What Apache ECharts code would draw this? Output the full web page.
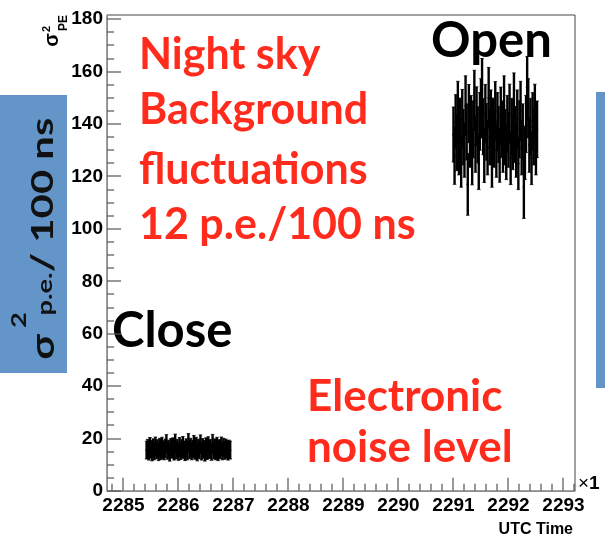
<!DOCTYPE html>
<html>
<head>
<meta charset="utf-8">
<script src="https://cdn.jsdelivr.net/npm/echarts@6/dist/echarts.min.js"></script>
<style>
  html, body { margin: 0; padding: 0; background: #fff; }
  #chart { width: 605px; height: 542px; }
</style>
</head>
<body>
<div id="chart"></div>
<script>
// tick labels
const xMajor = [2285, 2286, 2287, 2288, 2289, 2290, 2291, 2292, 2293];
const yMajor = [0, 20, 40, 60, 80, 100, 120, 140, 160, 180];

// shutter closed: UTC time, sigma^2, error
const closeTime = [
  2285.42,2285.44,2285.46,2285.48,2285.50,2285.52,2285.54,2285.56,2285.58,2285.60,
  2285.62,2285.64,2285.66,2285.68,2285.70,2285.72,2285.74,2285.76,2285.78,2285.80,
  2285.82,2285.84,2285.86,2285.88,2285.90,2285.92,2285.94,2285.96,2285.98,2286.00,
  2286.02,2286.04,2286.06,2286.08,2286.10,2286.12,2286.14,2286.16,2286.18,2286.20,
  2286.22,2286.24,2286.26,2286.28,2286.30,2286.32,2286.34,2286.36,2286.38,2286.40,
  2286.42,2286.44,2286.46,2286.48,2286.50,2286.52,2286.54,2286.56,2286.58,2286.60,
  2286.62,2286.64,2286.66,2286.68,2286.70,2286.72,2286.74,2286.76,2286.78,2286.80,
  2286.82,2286.84,2286.86,2286.88,2286.90,2286.92,2286.94
];
const closeVal = [
  15.6,16.2,15.1,16.8,15.9,14.8,16.4,15.3,17.0,15.7,
  16.1,14.9,16.6,15.4,16.9,15.8,15.2,16.3,17.9,15.5,
  16.0,14.7,16.5,15.9,16.7,15.1,18.1,15.6,16.2,15.0,
  16.8,15.4,16.1,17.2,15.7,14.9,16.4,15.3,18.3,15.8,
  16.6,15.2,16.0,17.6,15.5,16.9,14.8,16.3,15.7,17.8,
  15.1,16.5,15.9,14.7,16.7,15.4,17.1,15.8,16.2,15.0,
  18.0,15.6,16.4,15.3,16.9,14.9,16.1,15.7,17.0,15.2,
  16.6,15.5,16.3,15.9,15.1,16.0,15.6
];
const closeErr = [
  3.4,3.5,3.3,3.6,3.4,3.3,3.5,3.4,3.6,3.4,
  3.5,3.3,3.5,3.4,3.6,3.4,3.3,3.5,3.6,3.4,
  3.4,3.3,3.5,3.4,3.6,3.3,3.6,3.4,3.5,3.3,
  3.6,3.4,3.5,3.6,3.4,3.3,3.5,3.4,3.6,3.4,
  3.5,3.3,3.4,3.6,3.4,3.6,3.3,3.5,3.4,3.6,
  3.3,3.5,3.4,3.3,3.6,3.4,3.6,3.4,3.5,3.3,
  3.6,3.4,3.5,3.4,3.6,3.3,3.5,3.4,3.6,3.3,
  3.5,3.4,3.5,3.4,3.3,3.4,3.4
];

// shutter open
const openTime = [
  2291.00,2291.02,2291.04,2291.06,2291.08,2291.10,2291.12,2291.14,2291.16,2291.18,
  2291.20,2291.22,2291.24,2291.26,2291.28,2291.30,2291.32,2291.34,2291.36,2291.38,
  2291.40,2291.42,2291.44,2291.46,2291.48,2291.50,2291.52,2291.54,2291.56,2291.58,
  2291.60,2291.62,2291.64,2291.66,2291.68,2291.70,2291.72,2291.74,2291.76,2291.78,
  2291.80,2291.82,2291.84,2291.86,2291.88,2291.90,2291.92,2291.94,2291.96,2291.98,
  2292.00,2292.02,2292.04,2292.06,2292.08,2292.10,2292.12,2292.14,2292.16,2292.18,
  2292.20,2292.22,2292.24,2292.26,2292.28,2292.30,2292.32,2292.34,2292.36,2292.38,
  2292.40,2292.42,2292.44,2292.46,2292.48,2292.50,2292.52
];
const openVal = [
  136,128,141,133,145,131,139,126,142,135,
  130,147,137,117,144,134,140,127,138,149,
  132,143,136,125,141,146,153,139,128,144,
  137,131,150,135,142,126,139,134,145,130,
  141,136,128,143,138,132,147,135,129,140,
  134,144,127,139,133,148,136,130,142,125,
  138,145,131,137,116,129,140,154,146,132,
  139,127,141,135,144,131,138
];
const openErr = [
  10.5,11.0,10.2,10.8,11.3,10.4,10.9,10.1,11.2,10.6,
  10.3,11.4,10.7,11.8,11.1,10.5,10.9,10.2,10.8,11.5,
  10.4,11.2,10.6,10.0,11.0,11.3,12.0,10.7,10.3,11.1,
  10.8,10.4,11.6,10.6,11.0,10.1,10.9,10.5,11.2,10.3,
  11.0,10.7,10.2,11.1,10.8,10.4,11.4,10.6,10.2,10.9,
  10.5,11.2,10.1,10.8,10.4,11.5,10.7,10.3,11.0,10.0,
  10.9,11.3,10.4,10.7,12.0,10.2,10.9,11.8,11.3,10.4,
  10.8,10.1,11.0,10.6,11.2,10.4,10.8
];

const closeData = closeTime.map((t, i) => [t, closeVal[i], closeErr[i]]);
const openData = openTime.map((t, i) => [t, openVal[i], openErr[i]]);

const X_MIN = 2284.70, X_MAX = 2293.21, Y_MIN = 0, Y_MAX = 181.6;
const TICK_GREY = '#555';
const RED = '#ff2b1c';
const BLUE = '#6495c9';
const TXT = 'Lato, "DejaVu Sans", sans-serif';
const ROOTF = '"Liberation Sans", Arial, sans-serif';

// tick rows for a custom series: [value on axis, which axis (0 = x, 1 = y), length]
const tickRows = [];
for (let i = 0; 2284.8 + i * 0.2 < X_MAX; i++) {
  const v = +(2284.8 + i * 0.2).toFixed(1);
  tickRows.push([v, 0, xMajor.includes(v) ? 13 : 7]);
}
for (let v = 0; v <= 180; v += 5) tickRows.push([v, 1, yMajor.includes(v) ? 14 : 7]);

function errBar(params, api) {
  const x = api.value(0), y = api.value(1), e = api.value(2);
  const hi = api.coord([x, y + e]);
  const lo = api.coord([x, y - e]);
  const c = api.coord([x, y]);
  const cap = 1.8;
  return {
    type: 'group',
    children: [
      { type: 'line', shape: { x1: hi[0] - cap, y1: hi[1], x2: hi[0] + cap, y2: hi[1] }, style: { stroke: '#000', lineWidth: 0.8 } },
      { type: 'line', shape: { x1: lo[0] - cap, y1: lo[1], x2: lo[0] + cap, y2: lo[1] }, style: { stroke: '#000', lineWidth: 0.8 } },
      { type: 'line', shape: { x1: hi[0], y1: hi[1], x2: lo[0], y2: lo[1] }, style: { stroke: '#000', lineWidth: 2.4 } },
      { type: 'circle', shape: { cx: c[0], cy: c[1], r: 1.2 }, style: { fill: '#000' } }
    ]
  };
}

// ticks drawn a little inside the frame, positioned with the axes' own scales
function tick(params, api) {
  const v = api.value(0), onY = api.value(1) === 1, len = api.value(2);
  if (onY) {
    const p = api.coord([X_MIN + 0.02, v]);
    const y = Math.round(p[1]);
    return { type: 'group', children: [
      { type: 'line', shape: { x1: p[0] - 1, y1: y, x2: p[0] - 1 + len, y2: y }, style: { stroke: TICK_GREY, lineWidth: 1.2 } }
    ] };
  }
  const p = api.coord([v, Y_MIN + 0.5]);
  const x = Math.round(p[0]);
  return { type: 'group', children: [
    { type: 'line', shape: { x1: x, y1: p[1] + 1, x2: x, y2: p[1] + 1 - len }, style: { stroke: TICK_GREY, lineWidth: 1.2 } }
  ] };
}

// rotated text (reads bottom to top), stretched along the text like the slide
function vText(x, y, text, size, color, stretch) {
  return { type: 'text', x: x, y: y, rotation: Math.PI / 2, scaleX: stretch || 1,
    style: { text: text, font: 'bold ' + size + 'px ' + TXT, fill: color, align: 'center', verticalAlign: 'middle' } };
}
function label(x, y, text, size, color) {
  return { type: 'text', x: x, y: y, style: { text: text, font: 'bold ' + size + 'px ' + TXT, fill: color, verticalAlign: 'middle' } };
}

const chart = echarts.init(document.getElementById('chart'));
chart.setOption({
  animation: false,
  backgroundColor: '#fff',
  grid: { left: 107, top: 15, width: 468, height: 476, show: true, borderColor: '#444', borderWidth: 1, backgroundColor: 'transparent' },
  xAxis: {
    type: 'value', min: X_MIN, max: X_MAX, position: 'bottom',
    splitLine: { show: false },
    axisLine: { show: true, lineStyle: { color: '#8c8c8c', width: 1 } },
    axisTick: { show: false },
    axisLabel: { customValues: xMajor, margin: 5, color: '#000', fontFamily: ROOTF, fontWeight: 'bold', fontSize: 19,
      formatter: v => String(Math.round(v)) }
  },
  yAxis: {
    type: 'value', min: Y_MIN, max: Y_MAX, position: 'left',
    splitLine: { show: false },
    axisLine: { show: true, lineStyle: { color: '#8c8c8c', width: 1 } },
    axisTick: { show: false },
    axisLabel: { customValues: yMajor, margin: 4, color: '#000', fontFamily: ROOTF, fontWeight: 'bold', fontSize: 19 }
  },
  series: [
    { type: 'custom', name: 'Close', renderItem: errBar, data: closeData, encode: { x: 0, y: 1 } },
    { type: 'custom', name: 'Open', renderItem: errBar, data: openData, encode: { x: 0, y: 1 } },
    { type: 'custom', name: 'ticks', renderItem: tick, data: tickRows, silent: true, z: 10 }
  ],
  graphic: [
    // ROOT axis titles
    { type: 'text', x: 52, y: 40, rotation: Math.PI / 2, style: { text: 'σ', font: 'bold 20px ' + ROOTF, fill: '#000', align: 'center', verticalAlign: 'middle' } },
    { type: 'text', x: 47, y: 29, rotation: Math.PI / 2, style: { text: '2', font: 'bold 11px ' + ROOTF, fill: '#000', align: 'center', verticalAlign: 'middle' } },
    { type: 'text', x: 64, y: 23, rotation: Math.PI / 2, style: { text: 'PE', font: 'bold 12px ' + ROOTF, fill: '#000', align: 'center', verticalAlign: 'middle' } },
    { type: 'text', x: 573, y: 530, style: { text: 'UTC Time', font: 'bold 16px ' + ROOTF, fill: '#000', align: 'right', verticalAlign: 'middle' } },
    { type: 'text', x: 578, y: 484, style: { text: '{a|×}{b|1}', fill: '#000', align: 'left', verticalAlign: 'middle',
      rich: { a: { fontFamily: ROOTF, fontSize: 19, fontWeight: 'normal' }, b: { fontFamily: ROOTF, fontSize: 19, fontWeight: 'bold' } } } },

    // slide overlay: blue boxes
    { type: 'rect', shape: { x: 0, y: 95, width: 67, height: 278 }, style: { fill: BLUE } },
    { type: 'rect', shape: { x: 596, y: 92, width: 9, height: 296 }, style: { fill: BLUE } },
    vText(44, 347, 'σ', 32, '#111', 1.3),
    vText(19, 320, '2', 21, '#111', 1.3),
    vText(45, 294, 'p.e.', 21, '#111', 1.3),
    vText(43, 195, '/ 100 ns', 31, '#111', 1.35),

    // annotations
    label(139, 55, 'Night sky', 43, RED),
    label(139, 110, 'Background', 43, RED),
    label(139, 170, 'fluctuations', 43, RED),
    label(139, 225, '12 p.e./100 ns', 43, RED),
    label(307, 397, 'Electronic', 44, RED),
    label(307, 448, 'noise level', 44, RED),
    label(431, 41, 'Open', 49, '#000'),
    label(112, 331, 'Close', 49, '#000')
  ]
});
</script>
</body>
</html>
